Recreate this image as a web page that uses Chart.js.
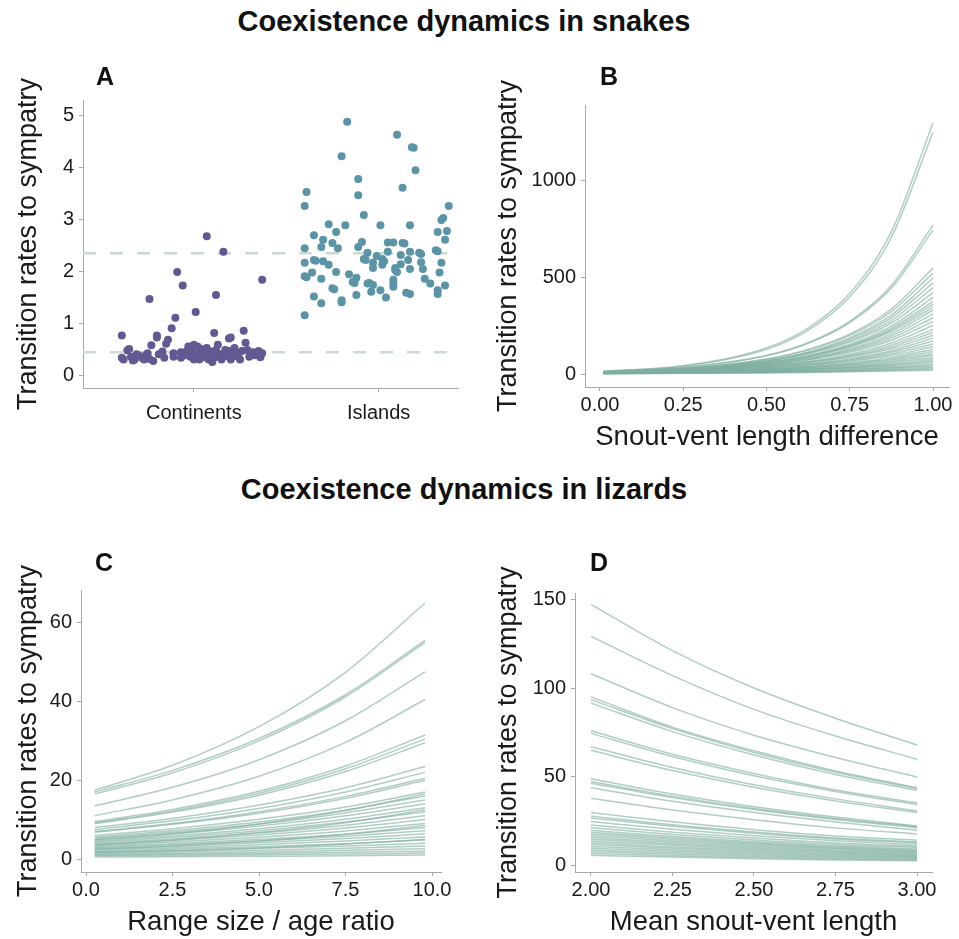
<!DOCTYPE html>
<html>
<head>
<meta charset="utf-8">
<script src="https://cdn.jsdelivr.net/npm/chart.js@4/dist/chart.umd.min.js"></script>
<style>
body { margin: 0; background: #fff; }
#page { position: relative; width: 959px; height: 939px; font-family: "Liberation Sans", Arial, sans-serif; color: #111; }
canvas { position: absolute; }
.titre { position: absolute; left: 0; width: 928px; text-align: center; font-weight: bold; font-size: 29px; line-height: 29px; }
.lettre { position: absolute; font-weight: bold; font-size: 25px; line-height: 25px; }
</style>
</head>
<body>
<div id="page">
  <div class="titre" style="top:7px">Coexistence dynamics in snakes</div>
  <div class="titre" style="top:475px">Coexistence dynamics in lizards</div>
  <canvas id="chartA" width="480" height="404" style="left:0;top:50px"></canvas>
  <canvas id="chartB" width="479" height="404" style="left:480px;top:50px"></canvas>
  <canvas id="chartC" width="480" height="409" style="left:0;top:530px"></canvas>
  <canvas id="chartD" width="479" height="409" style="left:480px;top:530px"></canvas>
  <div class="lettre" style="left:96px;top:64px">A</div>
  <div class="lettre" style="left:600px;top:64px">B</div>
  <div class="lettre" style="left:95px;top:550px">C</div>
  <div class="lettre" style="left:590px;top:550px">D</div>
</div>
<script>
// Panel A : taux par espèce (position jitter autour de 1 = Continents, 2 = Islands)
const categories = ['Continents', 'Islands']
const categoryPos = [1, 2]
const contX = [0.61,0.61,0.62,0.64,0.65,0.66,0.67,0.69,0.70,0.72,0.73,0.74,0.76,0.76,0.77,0.78,0.80,0.80,0.81,0.83,
  0.85,0.86,0.88,0.89,0.89,0.90,0.91,0.93,0.94,0.95,0.97,0.98,0.99,1.00,1.01,1.02,1.03,1.04,1.05,1.06,
  1.07,1.07,1.08,1.09,1.10,1.11,1.12,1.12,1.13,1.14,1.15,1.16,1.17,1.18,1.19,1.20,1.21,1.22,1.23,1.25,
  1.27,1.28,1.29,1.30,1.32,1.33,1.35,1.36,1.37,1.37,1.00,1.02,1.04,1.06,1.08,1.10,1.11,1.13,1.15,1.17,
  1.19,1.20,1.22,1.24,1.26,0.96,0.93,0.84,0.75,0.68]
const contY = [0.76,0.33,0.30,0.47,0.50,0.35,0.28,0.40,0.38,0.33,0.30,0.38,1.46,0.31,0.57,0.27,0.76,0.72,0.40,0.45,
  0.60,0.68,0.90,0.35,0.42,1.10,1.98,0.44,1.72,0.38,0.55,0.35,0.46,0.58,1.21,0.40,0.30,0.50,0.44,0.34,
  2.67,0.52,0.42,0.36,0.25,0.81,1.54,0.48,0.58,0.35,0.40,2.37,0.48,0.42,0.70,0.72,0.35,0.52,0.44,0.30,
  0.85,0.62,0.48,0.35,0.44,0.38,0.46,0.34,1.83,0.42,0.30,0.55,0.38,0.48,0.30,0.45,0.33,0.40,0.30,0.36,
  0.46,0.30,0.40,0.36,0.46,0.45,0.33,0.33,0.42,0.30]
const islX = [1.83,1.80,2.10,2.18,2.19,2.20,2.13,1.89,1.89,1.92,1.61,1.60,2.38,2.35,2.34,2.37,2.36,2.32,1.73,1.82,
  1.77,1.65,1.70,1.75,1.69,1.60,1.78,1.89,2.01,2.05,2.08,2.13,2.14,2.17,2.31,2.32,2.17,1.94,1.92,1.93,
  2.03,2.16,2.23,2.23,2.34,1.60,1.65,1.66,1.70,1.73,1.77,1.64,1.60,1.61,1.69,1.84,1.86,1.87,1.88,1.75,
  1.76,1.94,1.95,1.97,1.96,2.01,2.04,1.88,1.80,1.80,1.69,1.65,1.60,2.02,2.02,2.09,2.09,2.10,2.08,2.08,
  2.08,2.05,2.12,2.12,2.17,2.24,2.15,2.17,2.25,2.28,2.32,2.32,2.33,2.36,2.22,1.97,1.97,1.99,1.91]
const islY = [4.87,4.21,4.62,4.38,4.37,3.94,3.60,3.77,3.46,3.08,3.52,3.25,3.25,3.02,2.98,2.77,2.60,2.75,2.90,2.88,
  2.75,2.69,2.60,2.54,2.46,2.44,2.44,2.46,2.88,2.55,2.55,2.54,2.53,2.88,2.40,2.38,2.37,2.35,2.23,2.21,
  2.19,2.21,2.33,2.17,2.16,2.16,2.21,2.20,2.19,2.12,1.98,1.97,1.90,1.88,1.85,1.94,1.79,1.77,1.87,1.67,
  1.65,1.76,1.77,1.73,1.60,1.63,1.49,1.54,1.44,1.40,1.38,1.51,1.15,2.12,2.23,2.06,2.02,1.98,1.83,1.77,
  1.70,2.37,2.31,2.13,2.04,2.04,1.58,1.56,1.85,1.76,1.63,1.56,1.97,1.72,2.35,2.06,2.16,2.29,2.56]
const medianLines = [0.44, 2.34]

// Panel B : serpents, taux selon la différence de taille
const snakeX = [0.01, 0.25, 0.5, 0.625, 0.75, 0.875, 1]
const snakeCurves = [
  [14,43,134,236,416,734,1294],[13,41,127,225,398,705,1247],[12,34,96,161,271,456,768],[12,34,94,158,265,443,742],
  [11,29,78,127,206,335,546],[11,29,76,123,199,322,520],[10,27,70,114,187,304,495],[10,26,69,111,180,291,470],
  [10,26,67,107,172,277,445],[10,25,65,104,165,263,420],[9,23,60,96,154,247,395],[9,23,58,93,148,236,375],
  [9,23,57,90,143,227,360],[9,22,56,88,139,219,345],[8,20,51,81,130,207,330],[8,20,50,79,124,196,310],
  [8,20,48,75,118,185,290],[8,19,46,72,112,174,270],[7,17,42,65,102,160,250],[7,17,40,62,96,149,230],
  [7,16,39,60,91,140,215],[7,16,37,56,86,131,200],[6,14,33,51,78,120,185],[6,14,32,49,74,112,170],
  [6,13,30,45,69,103,155],[6,13,29,43,64,95,140],[5,11,25,38,57,85,128],[5,11,24,36,53,78,116],
  [5,11,23,34,49,72,105],[5,10,22,31,45,65,95],[4,9,18,27,40,58,85],[4,8,17,25,36,52,76],
  [4,8,16,23,33,47,68],[4,8,16,22,31,43,60],[3,6,12,17,25,36,52],[3,6,12,17,23,32,45],
  [3,6,11,15,20,28,38],[2,4,8,11,16,23,32],[2,4,7,10,14,19,26],[2,4,6,8,11,15,20]
]

// Panel C : lézards, taux selon le ratio aire / âge
const rangeX = [0.25, 2.5, 5, 7.5, 9.8]
const rangeCurves = [
  [17.5,23.8,33.6,47.4,65],[17,22.5,30.6,41.7,55.5],[16.5,21.9,30.0,41.2,55],[13.5,18.2,25.2,35.1,47.5],
  [11,15.0,21.0,29.6,40.5],[9.5,12.6,17.2,23.6,31.5],[9.2,12.2,16.7,22.9,30.5],[9.0,11.9,16.2,22.2,29.5],
  [8.0,10.3,13.7,18.1,23.5],[7.5,9.7,12.8,17.0,22],[7.0,9.0,12.0,15.9,20.5],[6.8,8.8,11.6,15.4,20],
  [6.0,7.7,10.1,13.2,17],[5.6,7.2,9.4,12.4,16],[5.3,6.8,8.9,11.7,15],[5.0,6.4,8.4,11.0,14],
  [4.6,5.9,7.7,10.1,13],[4.3,5.5,7.2,9.4,12],[4.0,5.1,6.6,8.6,11],[3.7,4.7,6.1,7.9,10],
  [3.4,4.3,5.5,7.1,9],[3.1,3.9,5.0,6.3,8],[2.9,3.6,4.6,5.8,7.2],[2.6,3.2,4.1,5.2,6.4],
  [2.3,2.8,3.6,4.6,5.6],[2.0,2.5,3.1,3.9,4.8],[1.8,2.1,2.7,3.3,4.0],[1.5,1.8,2.2,2.7,3.3],
  [1.2,1.4,1.8,2.2,2.6],[1.0,1.2,1.4,1.7,2.0],[0.8,0.9,1.1,1.3,1.5],[4.8,6.4,8.9,12.3,16.5],
  [3.6,4.8,6.7,9.2,12.5],[2.5,3.3,4.6,6.3,8.5],[1.6,2.1,2.8,3.8,5.0],[0.5,0.6,0.7,0.8,1.0]
]

// Panel D : lézards, taux selon la taille moyenne
const svlX = [2, 2.25, 2.5, 2.75, 3]
const svlCurves = [
  [147,121,100,83,68],[129,107,88,73,60],[108,89,73.5,61,50],[95,78,64.7,53.4,44],
  [93.5,77.2,63.8,52.6,43.5],[91.5,75.5,62.4,51.4,42.5],[76,62.8,52,42.7,35.5],[74.5,61.5,50.7,41.9,34.5],
  [67,55.3,45.6,37.7,31],[65,53.6,44.2,36.5,30],[49,40.4,33.3,27.5,22.5],[47.5,39.2,32.3,26.7,22],
  [46.5,38.4,31.7,26.1,21.5],[44,36.3,30,24.7,20],[38,31.4,26,21.4,18],[30,24.8,20.4,16.9,14.5],
  [28,23.1,19.1,15.7,13.5],[27,22.3,18.4,15.2,13],[25,20.6,17.0,14.1,12],[23,19.0,15.7,12.9,11],
  [21.5,17.7,14.6,12.1,10.5],[20,16.5,13.6,11.2,9.5],[19,15.7,12.9,10.7,9],[18,14.9,12.3,10.1,8.5],
  [17,14.0,11.6,9.6,8],[16,13.2,10.9,9.0,7.5],[15,12.4,10.2,8.4,7],[14,11.6,9.5,7.9,6.5],
  [13,10.7,8.9,7.3,6],[12,9.9,8.2,6.7,5.6],[11,9.1,7.5,6.2,5.2],[10,8.3,6.8,5.6,4.8],
  [9,7.4,6.1,5.1,4.3],[8,6.6,5.4,4.5,3.8],[7,5.8,4.8,3.9,3.3],[6,5.0,4.1,3.4,2.9]
]

// Graduations
const aTicksY = [0, 1, 2, 3, 4, 5]
const bTicksX = [0, 0.25, 0.5, 0.75, 1]
const bLabelsX = ['0.00', '0.25', '0.50', '0.75', '1.00']
const bTicksY = [0, 500, 1000]
const cTicksX = [0, 2.5, 5, 7.5, 10]
const cLabelsX = ['0.0', '2.5', '5.0', '7.5', '10.0']
const cTicksY = [0, 20, 40, 60]
const dTicksX = [2, 2.25, 2.5, 2.75, 3]
const dLabelsX = ['2.00', '2.25', '2.50', '2.75', '3.00']
const dTicksY = [0, 50, 100, 150]

const yTitle = 'Transition rates to sympatry'
const axisColor = '#a8a8a8'
const textColor = '#1a1a1a'
const lineColor = 'rgba(128,174,162,0.62)'
const fontFamily = '"Liberation Sans", Arial, sans-serif'

function makeAxis(min, max, ticks, labels, size, horizontal, title, tickPad){
    return {
        type: 'linear', min: min, max: max,
        afterBuildTicks: axis => { axis.ticks = ticks.map(v => ({ value: v })) },
        afterFit: axis => { if(horizontal) axis.height = size; else axis.width = size },
        grid: { drawOnChartArea: false, color: axisColor, tickColor: axisColor, tickLength: 4 },
        border: { color: axisColor, width: 1 },
        ticks: { autoSkip: false, maxRotation: 0, padding: tickPad, color: textColor,
                 font: { family: fontFamily, size: 20 }, callback: (v, i) => labels[i] },
        title: { display: title != '', text: title, color: textColor,
                 font: { family: fontFamily, size: horizontal ? 27.5 : 27 },
                 padding: horizontal ? { top: 0, bottom: 0 } : { top: 12, bottom: 0 } }
    }
}

function curveDatasets(xs, curves){
    return curves.map(c => ({
        data: xs.map((x, i) => ({ x: x, y: c[i] })),
        borderColor: lineColor, borderWidth: 1.5, pointRadius: 0,
        cubicInterpolationMode: 'monotone', fill: false
    }))
}

function makeChart(id, datasets, xAxis, yAxis, padding){
    return new Chart(document.getElementById(id), {
        type: 'line',
        data: { datasets: datasets },
        options: {
            responsive: false, animation: false, devicePixelRatio: 1,
            layout: { padding: padding },
            plugins: { legend: { display: false }, tooltip: { enabled: false } },
            scales: { x: xAxis, y: yAxis }
        }
    })
}

// Panel A
let datasetsA = medianLines.map(m => ({
    data: [{ x: 0.4, y: m }, { x: 2.43, y: m }],
    borderColor: '#cbd9d3', borderWidth: 2.5, borderDash: [13, 14], pointRadius: 0, order: 1
}))
datasetsA.push({
    data: contX.map((x, i) => ({ x: x, y: contY[i] })), showLine: false,
    pointRadius: 4, pointBackgroundColor: '#645893', pointBorderWidth: 0, order: 0
})
datasetsA.push({
    data: islX.map((x, i) => ({ x: x, y: islY[i] })), showLine: false,
    pointRadius: 4, pointBackgroundColor: '#5b94a6', pointBorderWidth: 0, order: 0
})
makeChart('chartA', datasetsA,
    makeAxis(0.4, 2.43, categoryPos, categories, 66, true, '', 9),
    makeAxis(-0.25, 5.29, aTicksY, aTicksY.map(String), 83, false, yTitle, 5),
    { top: 50, right: 22, left: 0, bottom: 0 })

// Panel B
makeChart('chartB', curveDatasets(snakeX, snakeCurves),
    makeAxis(-0.045, 1.048, bTicksX, bLabelsX, 67, true, 'Snout-vent length difference', 2),
    makeAxis(-67, 1387, bTicksY, bTicksY.map(String), 105, false, yTitle, 5),
    { top: 55, right: 10, left: 0, bottom: 0 })

// Panel C
makeChart('chartC', curveDatasets(rangeX, rangeCurves),
    makeAxis(-0.145, 10.26, cTicksX, cLabelsX, 67, true, 'Range size / age ratio', 2),
    makeAxis(-3.3, 68.3, cTicksY, cTicksY.map(String), 81, false, yTitle, 5),
    { top: 60, right: 39, left: 0, bottom: 0 })

// Panel D
makeChart('chartD', curveDatasets(svlX, svlCurves),
    makeAxis(1.951, 3.046, dTicksX, dLabelsX, 67, true, 'Mean snout-vent length', 2),
    makeAxis(-3.4, 153.4, dTicksY, dTicksY.map(String), 95, false, yTitle, 5),
    { top: 63, right: 27, left: 0, bottom: 0 })
</script>
</body>
</html>
